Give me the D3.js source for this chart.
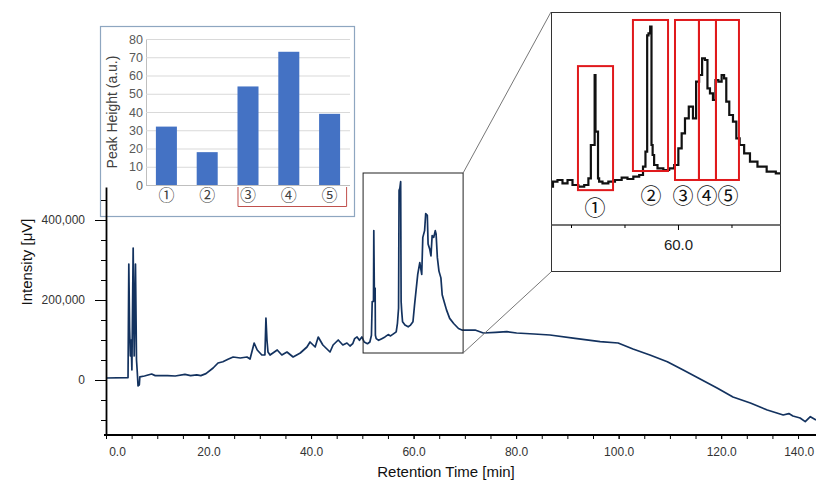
<!DOCTYPE html>
<html>
<head>
<meta charset="utf-8">
<script src="https://cdn.jsdelivr.net/npm/d3@7/dist/d3.min.js"></script>
<style>
  body { margin: 0; background: #fff; }
  svg { font-family: "Liberation Sans", Arial, sans-serif; }
  .circ { font-family: "Noto Sans CJK JP", "DejaVu Sans", sans-serif; }
</style>
</head>
<body>
<div id="chart"></div>
<script>
// chromatogram (min, µV)
const retentionTime = [
  0, 4.3, 4.45, 4.6, 4.75, 4.9, 5.05, 5.3, 5.5, 5.75, 5.95, 6.1, 6.25, 6.5, 6.6, 7.5, 8.9, 9.6, 12, 13.5,
  15.4, 16.5, 17.7, 18.5, 19.5, 20.9, 21.85, 22.8, 23.8, 24.8, 26.2, 27.5, 28.1, 28.9, 29.5, 30.4, 31.0, 31.2, 31.4, 31.6,
  32.0, 33.4, 34.3, 35.3, 36.5, 37.9, 39.2, 39.8, 40.8, 41.4, 42.3, 43.7, 44.3, 45.3, 46.2, 47.0, 47.6,
  48.13, 48.5, 48.97, 49.44, 49.91, 50.37, 51.0, 51.47, 51.78, 51.93, 52.18, 52.24, 52.34, 52.5, 52.55, 52.71, 53.18, 53.8,
  54.42, 55.05, 55.51, 56.14, 56.61, 56.85, 57.07, 57.17, 57.32, 57.48, 57.57, 57.69, 57.85, 58.32, 58.94, 59.41, 59.88,
  60.19, 60.5, 60.81, 61.21, 61.59, 61.8, 62.15, 62.36, 62.68, 62.83, 63.15, 63.39, 63.62, 63.93, 64.23, 64.39, 64.64,
  64.95, 65.33, 65.58, 65.95, 66.42, 67.04, 67.82, 68.76, 69.53,
  72.0, 73.6, 76, 78.2, 80.1, 83.5, 86.6, 91.5, 96.4, 99.9, 102.8, 106.1, 109.5, 112.6, 115.9, 119.2, 122.3, 125.7,
  129.0, 132.1, 133.2, 134.0, 135.4, 136.4, 137.4, 138.5
];
const intensity = [
  5000, 6000, 290000, 130000, 60000, 100000, 25000, 330000, 60000, 290000, 50000, 20000, -15000, -12000, 8000, 10000, 15000, 11000, 11000, 10000,
  14000, 11000, 13000, 11000, 16000, 30000, 42500, 45750, 52000, 57500, 55000, 57500, 52500, 92500, 75000, 62500, 62500, 155000, 100000, 70000,
  62500, 75000, 62500, 70000, 57500, 67500, 82500, 95000, 82500, 107500, 87500, 70000, 87500, 100000, 87500, 92500, 85000,
  90700, 103400, 107700, 99300, 107700, 95000, 90700, 95000, 112000, 196300, 196300, 373500, 230000, 230000, 112000, 103400, 99300, 103400,
  107700, 113500, 110200, 116000, 120300, 141300, 179300, 474000, 479000, 495800, 196300, 171000, 145600, 137300, 133000, 137300, 145600,
  187900, 225900, 263900, 293300, 263900, 356600, 373500, 415800, 411500, 339800, 327200, 310200, 360900, 356600, 373500, 365200, 305900,
  272200, 255300, 213200, 196300, 175300, 154000, 141300, 128700, 124600,
  125000, 117500, 119000, 120750, 117500, 115000, 112500, 104000, 95750, 92500, 77500, 62500, 45750, 25000, 2500, -20000, -42500, -57500,
  -75000, -87500, -84000, -90000, -95000, -104000, -91750, -100000
];
const intensityTicks = [0, 200000, 400000];
const timeTicks = [0, 20, 40, 60, 80, 100, 120, 140];

// enlarged window
const zoomRange = [48.13, 69.63];
const zoomBox = [50.15, 69.66, 67500, 517500];
const peakWindows = [[50.65, 53.93], [55.79, 59.07], [59.72, 61.96], [61.96, 63.55], [63.55, 65.7]];
const peakWindowTop = [396000, 512800, 512800, 512800, 512800];
const peakWindowBottom = [82000, 130400, 107700, 107700, 107700];
const peakTimes = [52.24, 57.48, 60.47, 62.71, 64.67];

// peak height bar chart
const peakLabels = ["①", "②", "③", "④", "⑤"];
const peakHeight = [32, 18, 54, 73, 39];
const heightTicks = [0, 10, 20, 30, 40, 50, 60, 70, 80];

const width = 816, height = 482;
const svg = d3.select("#chart").append("svg")
  .attr("width", width)
  .attr("height", height);

const x = d3.scaleLinear().domain([0, 138.5]).range([106, 816]);
const y = d3.scaleLinear().domain([-137500, 482500]).range([435, 187]);
const points = retentionTime.map((t, i) => [t, intensity[i]]);

// ---- bar chart inset (drawn first, main axis sits on top)
const bar = svg.append("g");
bar.append("rect")
  .attr("x", 100.5).attr("y", 26.5).attr("width", 254).attr("height", 190)
  .attr("fill", "#fff").attr("stroke", "#8ea6c0").attr("stroke-width", 1.2);

const bx = d3.scaleBand().domain(peakLabels).range([146, 350]).paddingInner(0.485).paddingOuter(0.2425);
const by = d3.scaleLinear().domain([0, 80]).range([185, 39]);

bar.append("g")
  .attr("transform", "translate(146,0)")
  .call(d3.axisLeft(by).tickValues(heightTicks).tickSize(-204).tickPadding(3))
  .call(g => g.select(".domain").attr("stroke", "#bfbfbf"))
  .call(g => g.selectAll(".tick line").attr("stroke", "#d9d9d9"))
  .call(g => g.selectAll(".tick text").attr("fill", "#595959").style("font-size", "12.5px"));

bar.selectAll(".bar")
  .data(peakHeight)
  .enter()
  .append("rect")
  .attr("x", (d, i) => bx(peakLabels[i]))
  .attr("y", d => by(d))
  .attr("width", bx.bandwidth())
  .attr("height", d => by(0) - by(d))
  .attr("fill", "#4472c4");

bar.append("line")
  .attr("x1", 146).attr("x2", 350).attr("y1", by(0) + 0.5).attr("y2", by(0) + 0.5)
  .attr("stroke", "#bfbfbf");

bar.selectAll(".lab")
  .data(peakLabels)
  .enter()
  .append("text")
  .attr("class", "circ")
  .attr("x", d => bx(d) + bx.bandwidth() / 2)
  .attr("y", 201)
  .attr("text-anchor", "middle")
  .attr("fill", "#404040")
  .style("font-size", "16px")
  .text(d => d);

// red bracket under 3-5
const bl = bx("③") + 0.5, br = bx("⑤") + bx.bandwidth() + 6.5;
bar.append("path")
  .attr("d", `M${bl},187V206.5H${br}V187`)
  .attr("fill", "none").attr("stroke", "#c0504d").attr("stroke-width", 1);

bar.append("text")
  .attr("transform", "translate(117,112) rotate(-90)")
  .attr("text-anchor", "middle")
  .attr("fill", "#404040")
  .style("font-size", "14px")
  .text("Peak Height (a.u.)");

// ---- main chromatogram
const line = d3.line().x(d => x(d[0])).y(d => y(d[1]));

svg.append("path")
  .datum(points)
  .attr("fill", "none")
  .attr("stroke", "#13325f")
  .attr("stroke-width", 1.7)
  .attr("stroke-linejoin", "round")
  .attr("d", line);

// minor y ticks
svg.append("g")
  .attr("transform", "translate(106,0)")
  .call(d3.axisLeft(y).tickValues(d3.range(-100000, 450001, 50000)).tickSize(5).tickFormat(""))
  .call(g => g.select(".domain").remove());

svg.append("g")
  .attr("transform", "translate(106,0)")
  .call(d3.axisLeft(y).tickValues(intensityTicks).tickSize(11).tickSizeOuter(0).tickPadding(10)
    .tickFormat(d3.format(",")))
  .call(g => g.select(".domain").attr("stroke-width", 1.8))
  .call(g => g.selectAll(".tick text").attr("fill", "#333").style("font-size", "12px"));

// x axis, minor ticks every 5 min
svg.append("g")
  .attr("transform", "translate(0,435)")
  .call(d3.axisBottom(x).tickValues(d3.range(0, 136, 5)).tickSize(4).tickSizeOuter(0).tickFormat(""))
  .call(g => g.select(".domain").attr("stroke-width", 1.8).attr("d", "M104,0H816"));

svg.append("g")
  .attr("transform", "translate(0,435)")
  .call(d3.axisBottom(x).tickValues(timeTicks).tickSize(4).tickPadding(8).tickFormat(d3.format(".1f")))
  .call(g => g.select(".domain").remove())
  .call(g => g.selectAll(".tick text").attr("fill", "#333").style("font-size", "12px")
    .attr("dx", d => d === 0 ? 11 : (d === 140 ? -25 : 0)));

svg.append("text")
  .attr("transform", "translate(32,262) rotate(-90)")
  .attr("text-anchor", "middle")
  .attr("fill", "#111")
  .style("font-size", "15px")
  .text("Intensity [μV]");

svg.append("text")
  .attr("x", 446).attr("y", 477)
  .attr("text-anchor", "middle")
  .attr("fill", "#111")
  .style("font-size", "15px")
  .text("Retention Time [min]");

// ---- zoom box + connectors
const zx0 = x(zoomBox[0]), zx1 = x(zoomBox[1]), zy0 = y(zoomBox[3]), zy1 = y(zoomBox[2]);
svg.append("rect")
  .attr("x", zx0).attr("y", zy0).attr("width", zx1 - zx0).attr("height", zy1 - zy0)
  .attr("fill", "none").attr("stroke", "#222").attr("stroke-width", 1);

svg.append("line").attr("x1", zx1).attr("y1", zy0).attr("x2", 551).attr("y2", 12)
  .attr("stroke", "#777").attr("stroke-width", 1);
svg.append("line").attr("x1", zx1).attr("y1", zy1).attr("x2", 551).attr("y2", 272)
  .attr("stroke", "#777").attr("stroke-width", 1);

// ---- enlarged inset
const zoomG = svg.append("g");
zoomG.append("rect")
  .attr("x", 551.5).attr("y", 12.5).attr("width", 229).attr("height", 259)
  .attr("fill", "#fff").attr("stroke", "#333").attr("stroke-width", 1);

const xz = d3.scaleLinear().domain(zoomRange).range([551, 781]);
const yz = d3.scaleLinear().domain([-6280, 533000]).range([225, 12]);

zoomG.append("clipPath").attr("id", "zclip")
  .append("rect").attr("x", 552).attr("y", 13).attr("width", 228).attr("height", 211);

zoomG.append("path")
  .datum(points.filter(d => d[0] >= 47.6 && d[0] <= 72))
  .attr("clip-path", "url(#zclip)")
  .attr("fill", "none")
  .attr("stroke", "#111")
  .attr("stroke-width", 2.2)
  .attr("d", d3.line().curve(d3.curveStep).x(d => xz(d[0])).y(d => yz(d[1])));

zoomG.selectAll(".win")
  .data(peakWindows)
  .enter()
  .append("rect")
  .attr("x", d => xz(d[0]))
  .attr("y", (d, i) => yz(peakWindowTop[i]))
  .attr("width", d => xz(d[1]) - xz(d[0]))
  .attr("height", (d, i) => yz(peakWindowBottom[i]) - yz(peakWindowTop[i]))
  .attr("fill", "none")
  .attr("stroke", "#e0191c")
  .attr("stroke-width", 2);

zoomG.append("g")
  .attr("transform", "translate(0,225)")
  .call(d3.axisBottom(xz).tickValues([50, 55, 65]).tickSize(3).tickFormat(""))
  .call(g => g.select(".domain").attr("d", "M551,0H781").attr("stroke", "#444").attr("stroke-width", 1.5));

zoomG.append("g")
  .attr("transform", "translate(0,225)")
  .call(d3.axisBottom(xz).tickValues([60]).tickSize(5).tickPadding(9).tickFormat(d3.format(".1f")))
  .call(g => g.select(".domain").remove())
  .call(g => g.selectAll(".tick text").attr("fill", "#222").style("font-size", "15px"));

zoomG.selectAll(".plab")
  .data(peakLabels)
  .enter()
  .append("text")
  .attr("class", "circ")
  .attr("x", (d, i) => xz(peakTimes[i]))
  .attr("y", (d, i) => i === 0 ? 215 : 203)
  .attr("text-anchor", "middle")
  .attr("fill", "#111")
  .style("font-size", "21px")
  .text(d => d);
</script>
</body>
</html>
